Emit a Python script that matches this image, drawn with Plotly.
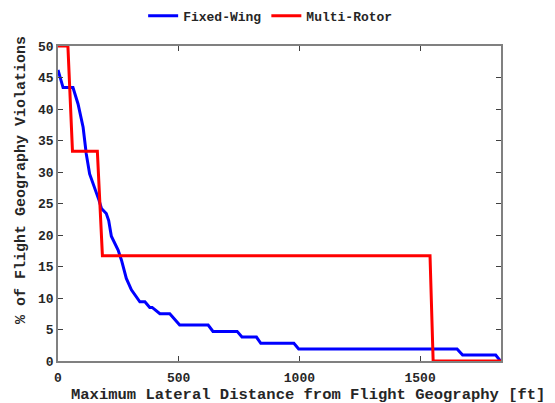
import plotly.graph_objects as go

# Fixed-Wing curve (distance ft, % violations)
fw_x = [0, 21, 62, 83, 104, 117, 131, 152, 170, 180, 200, 210, 221, 249, 263, 283, 304, 339, 360,
        380, 390, 422, 463, 504, 622, 642, 742, 762, 822, 840, 977, 997, 1653, 1676, 1813, 1833]
fw_y = [46.2, 43.4, 43.4, 40.8, 37.1, 32.9, 29.7, 27.6, 25.5, 24.2, 23.4, 22.3, 19.8, 17.6, 16.0, 13.1, 11.3, 9.4, 9.4,
        8.5, 8.5, 7.5, 7.5, 5.7, 5.7, 4.7, 4.7, 3.8, 3.8, 2.8, 2.8, 1.9, 1.9, 0.94, 0.94, 0.0]

# Multi-Rotor curve
mr_x = [0, 41, 60, 163, 184, 1541, 1554, 1835]
mr_y = [50.0, 50.0, 33.3, 33.3, 16.7, 16.7, 0.0, 0.0]

x_ticks = [0, 500, 1000, 1500]
y_ticks = [0, 5, 10, 15, 20, 25, 30, 35, 40, 45, 50]

FONT = "Liberation Mono"

fig = go.Figure()
fig.add_trace(go.Scatter(x=fw_x, y=fw_y, mode="lines", name="<b>Fixed-Wing</b>",
                         line=dict(color="#0000FF", width=3)))
fig.add_trace(go.Scatter(x=mr_x, y=mr_y, mode="lines", name="<b>Multi-Rotor</b>",
                         line=dict(color="#FF0000", width=3)))

axis_common = dict(showline=True, linecolor="#808080", linewidth=1.5, mirror="ticks",
                   ticks="inside", ticklen=5, tickcolor="#404040", showgrid=False, zeroline=False,
                   automargin=False,
                   tickfont=dict(family=FONT, size=13, color="#262626", weight="bold"))

# page body has an 8px default margin, so the figure is 8px smaller on each axis
fig.update_layout(
    width=547, height=395,
    margin=dict(l=50, r=54, t=38, b=42, autoexpand=False),
    plot_bgcolor="white", paper_bgcolor="white",
    font=dict(family=FONT, color="#262626"),
    xaxis=dict(range=[0, 1835], tickvals=x_ticks, ticklabelstandoff=4, **axis_common),
    yaxis=dict(range=[0, 50], tickvals=y_ticks, **axis_common),
    legend=dict(orientation="h", xref="paper", x=0.48, xanchor="center",
                yref="container", y=0.98, yanchor="middle",
                font=dict(family=FONT, size=13, color="#262626"),
                bgcolor="rgba(0,0,0,0)", itemwidth=30, tracegroupgap=0),
    showlegend=True,
    annotations=[
        dict(text="<b>Maximum Lateral Distance from Flight Geography [ft]</b>", xref="paper", yref="paper",
             x=0.564, y=-0.108, xanchor="center", yanchor="middle", showarrow=False,
             font=dict(family=FONT, size=15.5, color="#262626")),
        dict(text="<b>% of Flight Geography Violations</b>", xref="paper", yref="paper",
             x=-0.081, y=0.575, xanchor="center", yanchor="middle", showarrow=False, textangle=-90,
             font=dict(family=FONT, size=15, color="#262626")),
    ],
)

fig.write_html("out.html")
